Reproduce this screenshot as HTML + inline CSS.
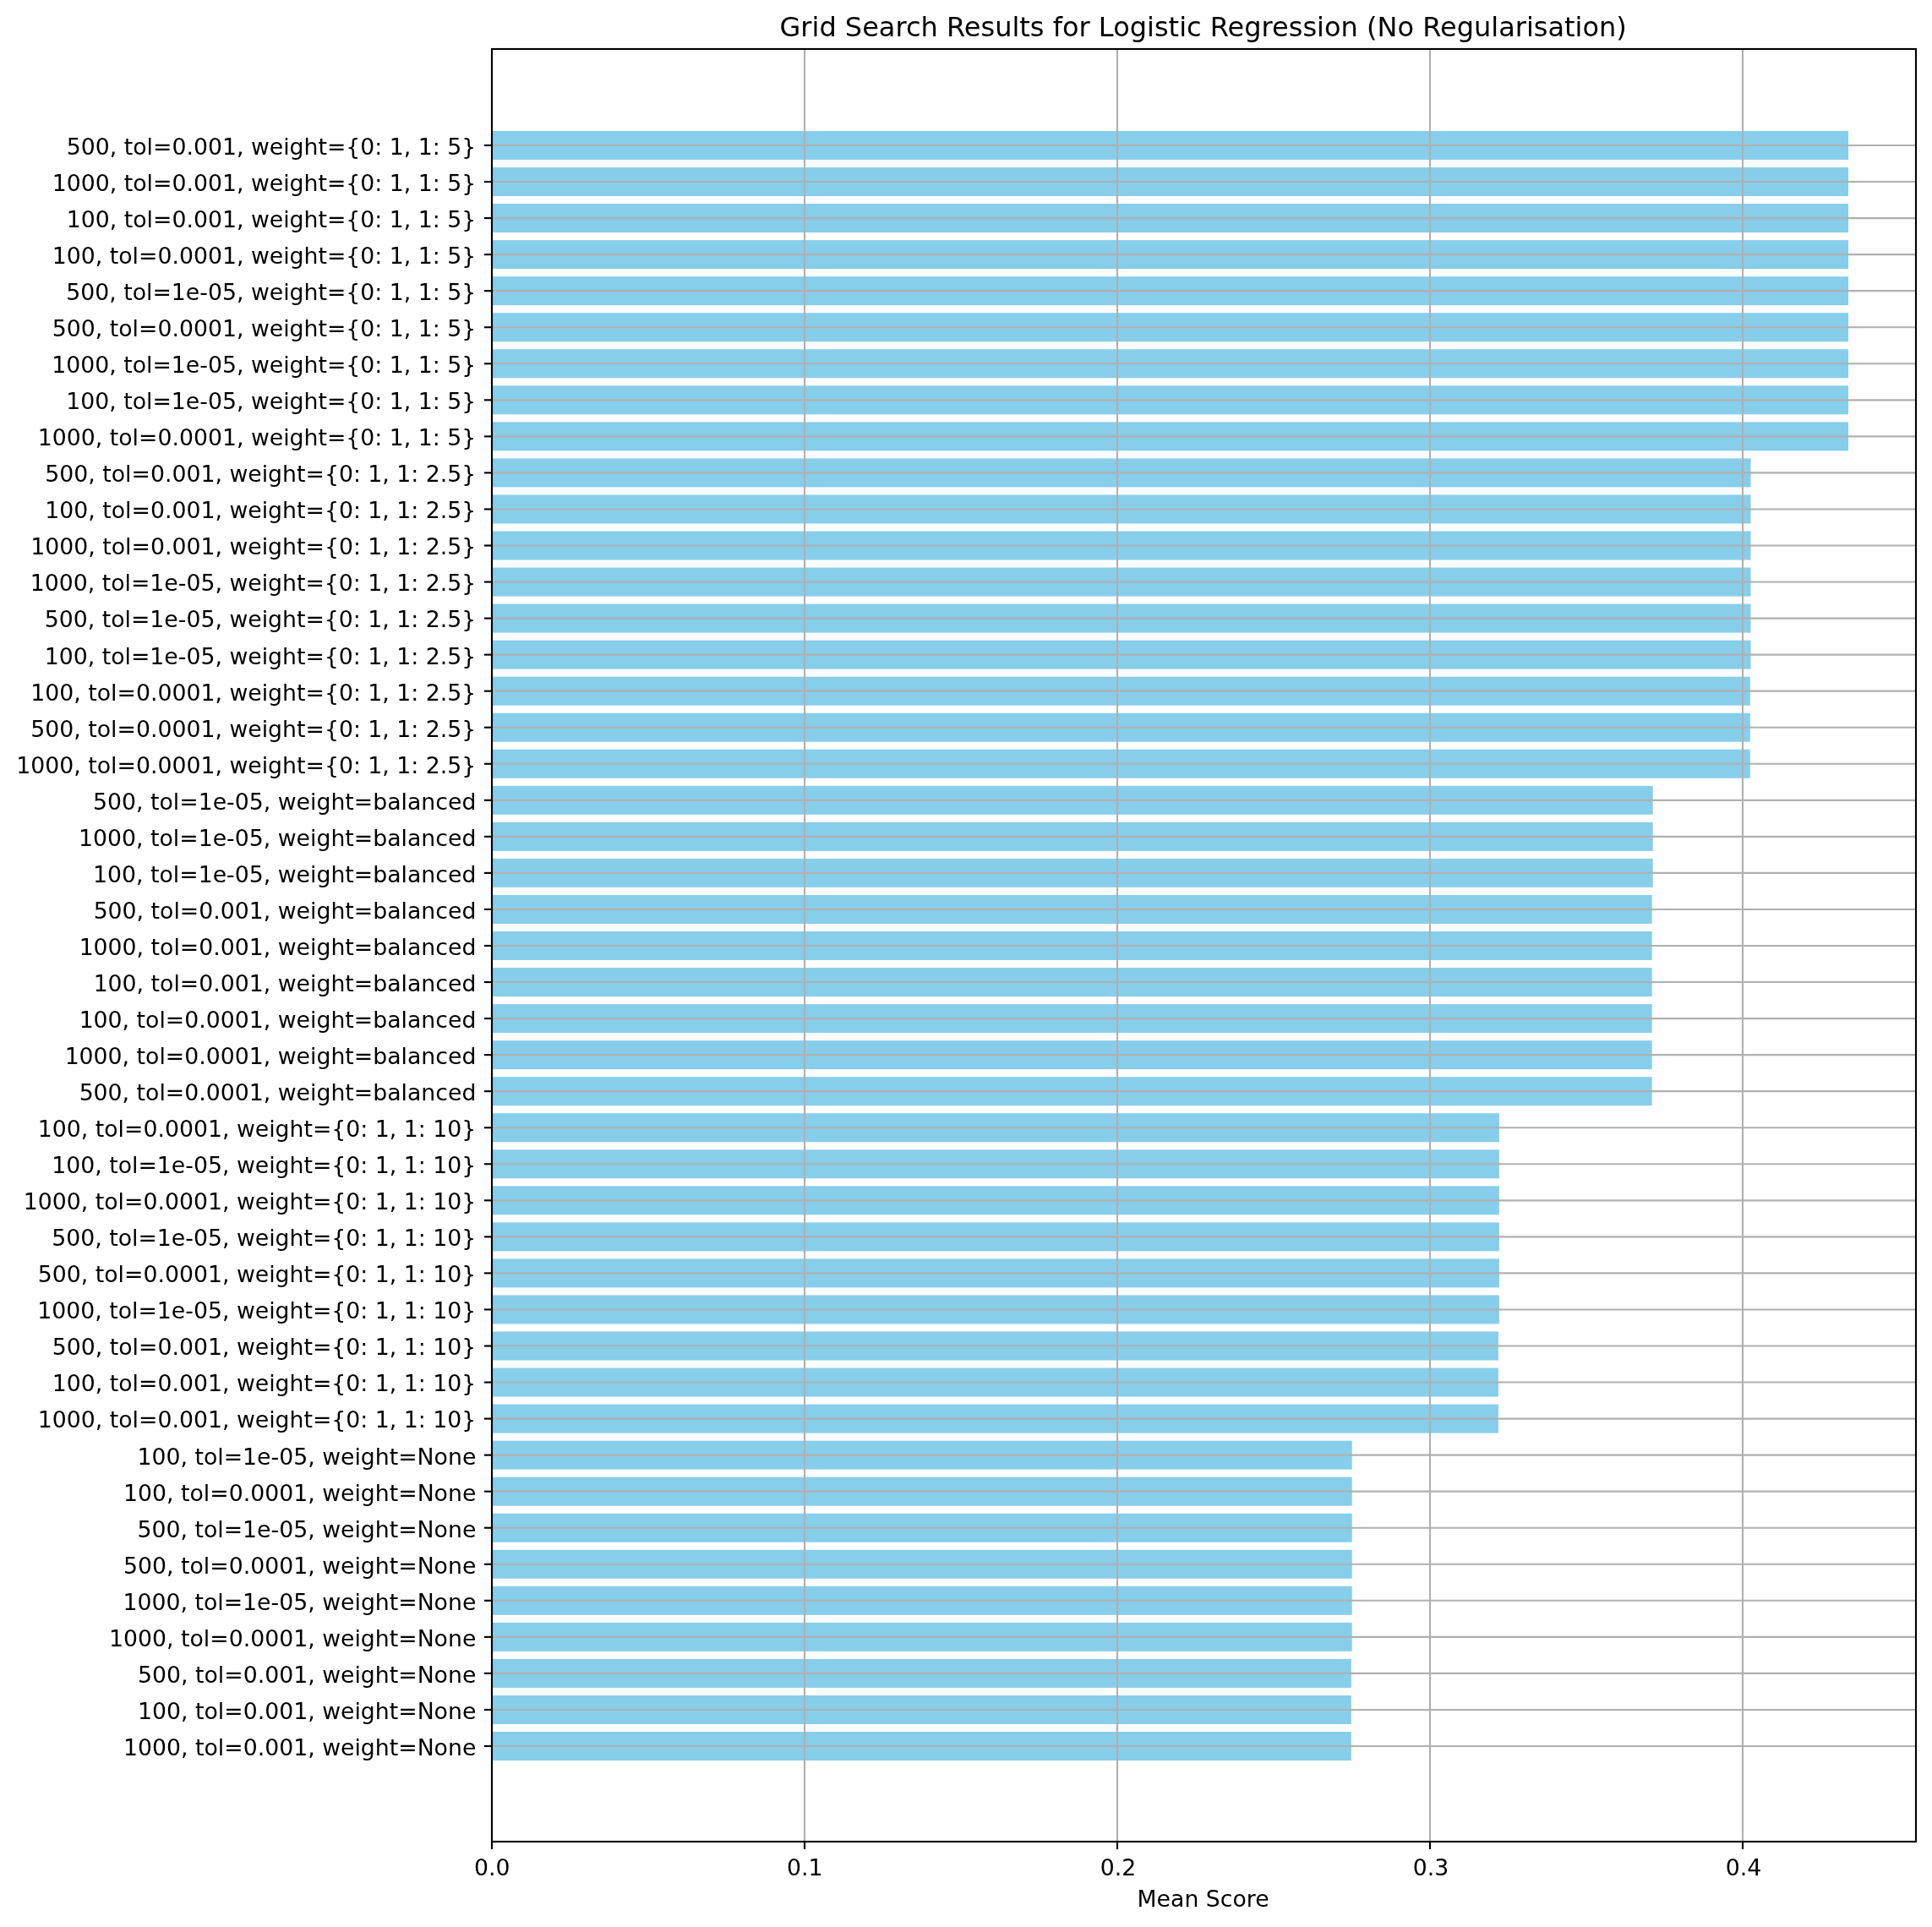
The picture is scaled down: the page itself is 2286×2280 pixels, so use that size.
<!DOCTYPE html>
<html><head><meta charset="utf-8"><title>Grid Search Results</title>
<style>html,body{margin:0;padding:0;background:#fff;}body{width:2286px;height:2280px;overflow:hidden;}svg{display:block;will-change:transform;}text{font-family:"DejaVu Sans","Liberation Sans",sans-serif;fill:#000;}</style></head><body>
<svg width="2286" height="2280" viewBox="0 0 2286 2280">
<rect x="0" y="0" width="2286" height="2280" fill="#fff"/>
<g fill="#87ceeb">
<rect x="582" y="155" width="1605" height="34"/>
<rect x="582" y="198.05" width="1605" height="34"/>
<rect x="582" y="241.09" width="1605" height="34"/>
<rect x="582" y="284.13" width="1605" height="34"/>
<rect x="582" y="327.18" width="1605" height="34"/>
<rect x="582" y="370.23" width="1605" height="34"/>
<rect x="582" y="413.27" width="1605" height="34"/>
<rect x="582" y="456.31" width="1605" height="34"/>
<rect x="582" y="499.36" width="1605" height="34"/>
<rect x="582" y="542.4" width="1489.5" height="34"/>
<rect x="582" y="585.45" width="1489.5" height="34"/>
<rect x="582" y="628.5" width="1489.5" height="34"/>
<rect x="582" y="671.54" width="1489.5" height="34"/>
<rect x="582" y="714.59" width="1489.5" height="34"/>
<rect x="582" y="757.63" width="1489.5" height="34"/>
<rect x="582" y="800.68" width="1488.8" height="34"/>
<rect x="582" y="843.72" width="1488.8" height="34"/>
<rect x="582" y="886.76" width="1488.8" height="34"/>
<rect x="582" y="929.81" width="1373.7" height="34"/>
<rect x="582" y="972.86" width="1373.7" height="34"/>
<rect x="582" y="1015.9" width="1373.7" height="34"/>
<rect x="582" y="1058.95" width="1372.7" height="34"/>
<rect x="582" y="1101.99" width="1372.7" height="34"/>
<rect x="582" y="1145.04" width="1372.7" height="34"/>
<rect x="582" y="1188.08" width="1372.7" height="34"/>
<rect x="582" y="1231.12" width="1372.7" height="34"/>
<rect x="582" y="1274.17" width="1372.7" height="34"/>
<rect x="582" y="1317.22" width="1191.9" height="34"/>
<rect x="582" y="1360.26" width="1191.9" height="34"/>
<rect x="582" y="1403.31" width="1191.9" height="34"/>
<rect x="582" y="1446.35" width="1191.9" height="34"/>
<rect x="582" y="1489.39" width="1191.9" height="34"/>
<rect x="582" y="1532.44" width="1191.9" height="34"/>
<rect x="582" y="1575.49" width="1190.9" height="34"/>
<rect x="582" y="1618.53" width="1190.9" height="34"/>
<rect x="582" y="1661.58" width="1190.9" height="34"/>
<rect x="582" y="1704.62" width="1017.7" height="34"/>
<rect x="582" y="1747.66" width="1017.7" height="34"/>
<rect x="582" y="1790.71" width="1017.7" height="34"/>
<rect x="582" y="1833.76" width="1017.7" height="34"/>
<rect x="582" y="1876.8" width="1017.7" height="34"/>
<rect x="582" y="1919.85" width="1017.7" height="34"/>
<rect x="582" y="1962.89" width="1016.9" height="34"/>
<rect x="582" y="2005.94" width="1016.9" height="34"/>
<rect x="582" y="2048.98" width="1016.9" height="34"/>
</g>
<g stroke="#b0b0b0" stroke-width="2.13" fill="none">
<line x1="952" y1="58" x2="952" y2="2179"/>
<line x1="1322" y1="58" x2="1322" y2="2179"/>
<line x1="1692" y1="58" x2="1692" y2="2179"/>
<line x1="2062" y1="58" x2="2062" y2="2179"/>
<line x1="582" y1="172" x2="2267" y2="172"/>
<line x1="582" y1="215.05" x2="2267" y2="215.05"/>
<line x1="582" y1="258.09" x2="2267" y2="258.09"/>
<line x1="582" y1="301.13" x2="2267" y2="301.13"/>
<line x1="582" y1="344.18" x2="2267" y2="344.18"/>
<line x1="582" y1="387.23" x2="2267" y2="387.23"/>
<line x1="582" y1="430.27" x2="2267" y2="430.27"/>
<line x1="582" y1="473.31" x2="2267" y2="473.31"/>
<line x1="582" y1="516.36" x2="2267" y2="516.36"/>
<line x1="582" y1="559.4" x2="2267" y2="559.4"/>
<line x1="582" y1="602.45" x2="2267" y2="602.45"/>
<line x1="582" y1="645.5" x2="2267" y2="645.5"/>
<line x1="582" y1="688.54" x2="2267" y2="688.54"/>
<line x1="582" y1="731.59" x2="2267" y2="731.59"/>
<line x1="582" y1="774.63" x2="2267" y2="774.63"/>
<line x1="582" y1="817.68" x2="2267" y2="817.68"/>
<line x1="582" y1="860.72" x2="2267" y2="860.72"/>
<line x1="582" y1="903.76" x2="2267" y2="903.76"/>
<line x1="582" y1="946.81" x2="2267" y2="946.81"/>
<line x1="582" y1="989.86" x2="2267" y2="989.86"/>
<line x1="582" y1="1032.9" x2="2267" y2="1032.9"/>
<line x1="582" y1="1075.95" x2="2267" y2="1075.95"/>
<line x1="582" y1="1118.99" x2="2267" y2="1118.99"/>
<line x1="582" y1="1162.04" x2="2267" y2="1162.04"/>
<line x1="582" y1="1205.08" x2="2267" y2="1205.08"/>
<line x1="582" y1="1248.12" x2="2267" y2="1248.12"/>
<line x1="582" y1="1291.17" x2="2267" y2="1291.17"/>
<line x1="582" y1="1334.22" x2="2267" y2="1334.22"/>
<line x1="582" y1="1377.26" x2="2267" y2="1377.26"/>
<line x1="582" y1="1420.31" x2="2267" y2="1420.31"/>
<line x1="582" y1="1463.35" x2="2267" y2="1463.35"/>
<line x1="582" y1="1506.39" x2="2267" y2="1506.39"/>
<line x1="582" y1="1549.44" x2="2267" y2="1549.44"/>
<line x1="582" y1="1592.49" x2="2267" y2="1592.49"/>
<line x1="582" y1="1635.53" x2="2267" y2="1635.53"/>
<line x1="582" y1="1678.58" x2="2267" y2="1678.58"/>
<line x1="582" y1="1721.62" x2="2267" y2="1721.62"/>
<line x1="582" y1="1764.66" x2="2267" y2="1764.66"/>
<line x1="582" y1="1807.71" x2="2267" y2="1807.71"/>
<line x1="582" y1="1850.76" x2="2267" y2="1850.76"/>
<line x1="582" y1="1893.8" x2="2267" y2="1893.8"/>
<line x1="582" y1="1936.85" x2="2267" y2="1936.85"/>
<line x1="582" y1="1979.89" x2="2267" y2="1979.89"/>
<line x1="582" y1="2022.94" x2="2267" y2="2022.94"/>
<line x1="582" y1="2065.98" x2="2267" y2="2065.98"/>
</g>
<g stroke="#000" stroke-width="2.13" fill="none">
<rect x="582" y="58" width="1685" height="2121" stroke-linejoin="miter"/>
<line x1="573" y1="172" x2="582" y2="172"/>
<line x1="573" y1="215.05" x2="582" y2="215.05"/>
<line x1="573" y1="258.09" x2="582" y2="258.09"/>
<line x1="573" y1="301.13" x2="582" y2="301.13"/>
<line x1="573" y1="344.18" x2="582" y2="344.18"/>
<line x1="573" y1="387.23" x2="582" y2="387.23"/>
<line x1="573" y1="430.27" x2="582" y2="430.27"/>
<line x1="573" y1="473.31" x2="582" y2="473.31"/>
<line x1="573" y1="516.36" x2="582" y2="516.36"/>
<line x1="573" y1="559.4" x2="582" y2="559.4"/>
<line x1="573" y1="602.45" x2="582" y2="602.45"/>
<line x1="573" y1="645.5" x2="582" y2="645.5"/>
<line x1="573" y1="688.54" x2="582" y2="688.54"/>
<line x1="573" y1="731.59" x2="582" y2="731.59"/>
<line x1="573" y1="774.63" x2="582" y2="774.63"/>
<line x1="573" y1="817.68" x2="582" y2="817.68"/>
<line x1="573" y1="860.72" x2="582" y2="860.72"/>
<line x1="573" y1="903.76" x2="582" y2="903.76"/>
<line x1="573" y1="946.81" x2="582" y2="946.81"/>
<line x1="573" y1="989.86" x2="582" y2="989.86"/>
<line x1="573" y1="1032.9" x2="582" y2="1032.9"/>
<line x1="573" y1="1075.95" x2="582" y2="1075.95"/>
<line x1="573" y1="1118.99" x2="582" y2="1118.99"/>
<line x1="573" y1="1162.04" x2="582" y2="1162.04"/>
<line x1="573" y1="1205.08" x2="582" y2="1205.08"/>
<line x1="573" y1="1248.12" x2="582" y2="1248.12"/>
<line x1="573" y1="1291.17" x2="582" y2="1291.17"/>
<line x1="573" y1="1334.22" x2="582" y2="1334.22"/>
<line x1="573" y1="1377.26" x2="582" y2="1377.26"/>
<line x1="573" y1="1420.31" x2="582" y2="1420.31"/>
<line x1="573" y1="1463.35" x2="582" y2="1463.35"/>
<line x1="573" y1="1506.39" x2="582" y2="1506.39"/>
<line x1="573" y1="1549.44" x2="582" y2="1549.44"/>
<line x1="573" y1="1592.49" x2="582" y2="1592.49"/>
<line x1="573" y1="1635.53" x2="582" y2="1635.53"/>
<line x1="573" y1="1678.58" x2="582" y2="1678.58"/>
<line x1="573" y1="1721.62" x2="582" y2="1721.62"/>
<line x1="573" y1="1764.66" x2="582" y2="1764.66"/>
<line x1="573" y1="1807.71" x2="582" y2="1807.71"/>
<line x1="573" y1="1850.76" x2="582" y2="1850.76"/>
<line x1="573" y1="1893.8" x2="582" y2="1893.8"/>
<line x1="573" y1="1936.85" x2="582" y2="1936.85"/>
<line x1="573" y1="1979.89" x2="582" y2="1979.89"/>
<line x1="573" y1="2022.94" x2="582" y2="2022.94"/>
<line x1="573" y1="2065.98" x2="582" y2="2065.98"/>
<line x1="582" y1="2179" x2="582" y2="2188"/>
<line x1="952" y1="2179" x2="952" y2="2188"/>
<line x1="1322" y1="2179" x2="1322" y2="2188"/>
<line x1="1692" y1="2179" x2="1692" y2="2188"/>
<line x1="2062" y1="2179" x2="2062" y2="2188"/>
</g>
<g font-size="26.73" text-anchor="end">
<text x="563.35" y="183">500, tol=0.001, weight={0: 1, 1: 5}</text>
<text x="563.35" y="226">1000, tol=0.001, weight={0: 1, 1: 5}</text>
<text x="563.35" y="269">100, tol=0.001, weight={0: 1, 1: 5}</text>
<text x="563.35" y="312">100, tol=0.0001, weight={0: 1, 1: 5}</text>
<text x="563.35" y="355">500, tol=1e-05, weight={0: 1, 1: 5}</text>
<text x="563.35" y="398">500, tol=0.0001, weight={0: 1, 1: 5}</text>
<text x="563.35" y="441">1000, tol=1e-05, weight={0: 1, 1: 5}</text>
<text x="563.35" y="484">100, tol=1e-05, weight={0: 1, 1: 5}</text>
<text x="563.35" y="527">1000, tol=0.0001, weight={0: 1, 1: 5}</text>
<text x="563.35" y="570">500, tol=0.001, weight={0: 1, 1: 2.5}</text>
<text x="563.35" y="613">100, tol=0.001, weight={0: 1, 1: 2.5}</text>
<text x="563.35" y="656">1000, tol=0.001, weight={0: 1, 1: 2.5}</text>
<text x="563.35" y="699">1000, tol=1e-05, weight={0: 1, 1: 2.5}</text>
<text x="563.35" y="742">500, tol=1e-05, weight={0: 1, 1: 2.5}</text>
<text x="563.35" y="786">100, tol=1e-05, weight={0: 1, 1: 2.5}</text>
<text x="563.35" y="829">100, tol=0.0001, weight={0: 1, 1: 2.5}</text>
<text x="563.35" y="872">500, tol=0.0001, weight={0: 1, 1: 2.5}</text>
<text x="563.35" y="915">1000, tol=0.0001, weight={0: 1, 1: 2.5}</text>
<text x="563.35" y="958">500, tol=1e-05, weight=balanced</text>
<text x="563.35" y="1001">1000, tol=1e-05, weight=balanced</text>
<text x="563.35" y="1044">100, tol=1e-05, weight=balanced</text>
<text x="563.35" y="1087">500, tol=0.001, weight=balanced</text>
<text x="563.35" y="1130">1000, tol=0.001, weight=balanced</text>
<text x="563.35" y="1173">100, tol=0.001, weight=balanced</text>
<text x="563.35" y="1216">100, tol=0.0001, weight=balanced</text>
<text x="563.35" y="1259">1000, tol=0.0001, weight=balanced</text>
<text x="563.35" y="1302">500, tol=0.0001, weight=balanced</text>
<text x="563.35" y="1345">100, tol=0.0001, weight={0: 1, 1: 10}</text>
<text x="563.35" y="1388">100, tol=1e-05, weight={0: 1, 1: 10}</text>
<text x="563.35" y="1431">1000, tol=0.0001, weight={0: 1, 1: 10}</text>
<text x="563.35" y="1474">500, tol=1e-05, weight={0: 1, 1: 10}</text>
<text x="563.35" y="1517">500, tol=0.0001, weight={0: 1, 1: 10}</text>
<text x="563.35" y="1560">1000, tol=1e-05, weight={0: 1, 1: 10}</text>
<text x="563.35" y="1603">500, tol=0.001, weight={0: 1, 1: 10}</text>
<text x="563.35" y="1646">100, tol=0.001, weight={0: 1, 1: 10}</text>
<text x="563.35" y="1689">1000, tol=0.001, weight={0: 1, 1: 10}</text>
<text x="563.35" y="1733">100, tol=1e-05, weight=None</text>
<text x="563.35" y="1776">100, tol=0.0001, weight=None</text>
<text x="563.35" y="1819">500, tol=1e-05, weight=None</text>
<text x="563.35" y="1862">500, tol=0.0001, weight=None</text>
<text x="563.35" y="1905">1000, tol=1e-05, weight=None</text>
<text x="563.35" y="1948">1000, tol=0.0001, weight=None</text>
<text x="563.35" y="1991">500, tol=0.001, weight=None</text>
<text x="563.35" y="2034">100, tol=0.001, weight=None</text>
<text x="563.35" y="2077">1000, tol=0.001, weight=None</text>
</g>
<g font-size="26.73" text-anchor="middle">
<text x="582.17" y="2218.9">0.0</text>
<text x="952.17" y="2218.9">0.1</text>
<text x="1323.07" y="2218.9">0.2</text>
<text x="1693.07" y="2218.9">0.3</text>
<text x="2063.07" y="2218.9">0.4</text>
</g>
<text x="1423.6" y="2256" font-size="26.73" text-anchor="middle">Mean Score</text>
<text x="1423.7" y="42.5" font-size="32" text-anchor="middle">Grid Search Results for Logistic Regression (No Regularisation)</text>
</svg></body></html>
